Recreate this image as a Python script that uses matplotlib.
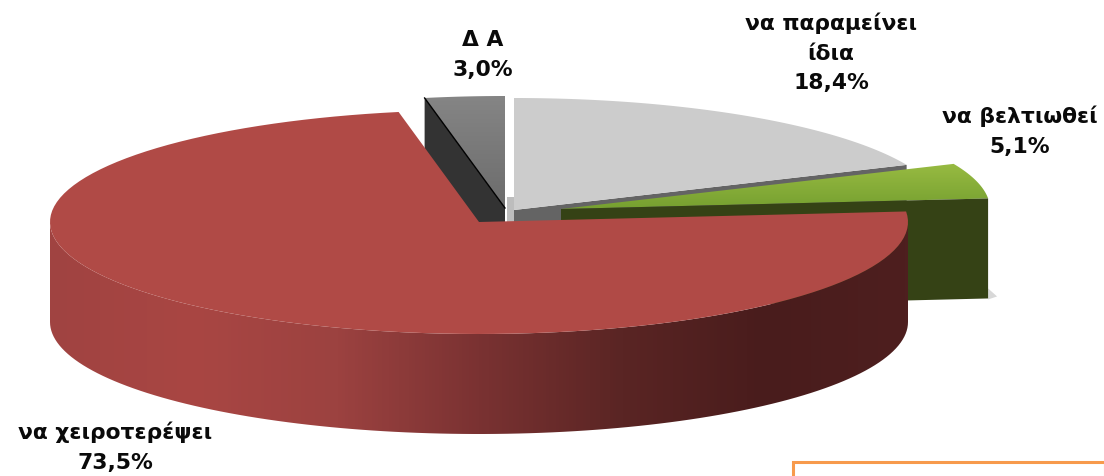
#!/usr/bin/env python3
"""Exploded 3D-look pie chart, drawn by hand with patches on a pixel-sized axes."""

import matplotlib

matplotlib.use("Agg")
import matplotlib.pyplot as plt
import numpy as np
from matplotlib.colors import LinearSegmentedColormap
from matplotlib.patches import Polygon, Rectangle

categories = ["να παραμείνει\nίδια", "να βελτιωθεί", "να χειροτερέψει", "Δ Α"]
values = [18.4, 5.1, 73.5, 3.0]

RX, RY, DEPTH = 429, 112, 100
APEX = {0: (514, 210), 1: (561, 209), 2: (479, 222), 3: (505, 208)}
LABEL_POS = {0: (831, 53), 1: (1020, 131), 2: (115, 447), 3: (483, 55)}

plt.rcParams["font.family"] = ["DejaVu Sans"]

# τα όρια κάθε φέτας σε μοίρες, δεξιόστροφα από την κορυφή
edges = np.concatenate([[0], np.cumsum(values)]) / sum(values) * 360.0


def rim(apex, a0, a1, n=120):
    t = np.radians(np.linspace(a0, a1, n))
    return np.column_stack([apex[0] + RX * np.sin(t), apex[1] - RY * np.cos(t)])


def top_face(i):
    return np.vstack([APEX[i], rim(APEX[i], edges[i], edges[i + 1])])


def gradient(ax, colors, patch, horizontal=False):
    # γέμισμα με διαβάθμιση, κομμένο στο σχήμα της φέτας
    pts = patch.get_xy()
    x0, x1, y0, y1 = pts[:, 0].min(), pts[:, 0].max(), pts[:, 1].min(), pts[:, 1].max()
    cmap = LinearSegmentedColormap.from_list("g", colors)
    ramp = np.linspace(0, 1, 256)
    ramp = ramp[None, :] if horizontal else ramp[:, None]
    im = ax.imshow(ramp, cmap=cmap, extent=(x0, x1, y1, y0), aspect="auto", zorder=patch.get_zorder())
    ax.add_patch(patch)
    patch.set_visible(False)
    im.set_clip_path(patch)


fig = plt.figure(figsize=(11.04, 4.76), dpi=100)
ax = fig.add_axes([0, 0, 1, 1])

# Δ Α
a = APEX[3]
outer = rim(a, edges[3], edges[3], 1)[0]
ax.add_patch(Polygon([outer, a, (a[0], a[1] + DEPTH), (outer[0], outer[1] + DEPTH)], fc="#333333", ec="none", zorder=1))
gradient(ax, ["#858585", "#6c6c6c"], Polygon(top_face(3), zorder=2))
ax.plot([outer[0], a[0]], [outer[1], a[1]], color="black", lw=1, zorder=3)

# να παραμείνει ίδια
a = APEX[0]
outer = rim(a, edges[1], edges[1], 1)[0]
ax.add_patch(Rectangle((507, 197), 7, 30, fc="#bdbdbd", ec="none", zorder=3))
ax.add_patch(Polygon([a, outer, (outer[0], outer[1] + DEPTH), (a[0], a[1] + DEPTH)], fc="#646464", ec="none", zorder=3))
ax.add_patch(Polygon(top_face(0), fc="#cccccc", ec="none", zorder=4))

# να βελτιωθεί
a = APEX[1]
outer = rim(a, edges[2], edges[2], 1)[0]
ax.add_patch(Polygon([(outer[0], outer[1] + DEPTH - 10), (outer[0] + 9, outer[1] + DEPTH - 2), (outer[0], outer[1] + DEPTH + 1)], fc="#d8d8d8", ec="none", zorder=4))
gradient(ax, ["#98bb42", "#76a030"], Polygon(top_face(1), zorder=5))
ax.add_patch(Polygon([a, outer, (outer[0], outer[1] + DEPTH), (a[0], a[1] + DEPTH)], fc="#354215", ec="none", zorder=6))

# να χειροτερέψει
a = APEX[2]
front = rim(a, 90, 270)
wall = np.vstack([front, (front + [0, DEPTH])[::-1]])
gradient(
    ax,
    ["#a04341", "#a94643", "#9c4240", "#7a3232", "#5a2524", "#491c1c", "#4e1f1f"],
    Polygon(wall, zorder=7),
    horizontal=True,
)
ax.add_patch(Polygon(top_face(2), fc="#b04a46", ec="none", zorder=8))

# πλαίσιο κάτω δεξιά
ax.add_patch(Rectangle((793, 462), 312, 30, fc="white", ec="#f79a4c", lw=2.2, zorder=9))

for i, (cat, val) in enumerate(zip(categories, values)):
    label = f"{cat}\n{val:.1f}".replace(".", ",") + "%"
    ax.text(*LABEL_POS[i], label, ha="center", va="center", fontsize=15.7, fontweight="bold",
            color="#0a0a0a", linespacing=1.6, zorder=10)

ax.set_xlim(0, 1104)
ax.set_ylim(476, 0)
ax.axis("off")

fig.savefig("out.png", dpi=100)
